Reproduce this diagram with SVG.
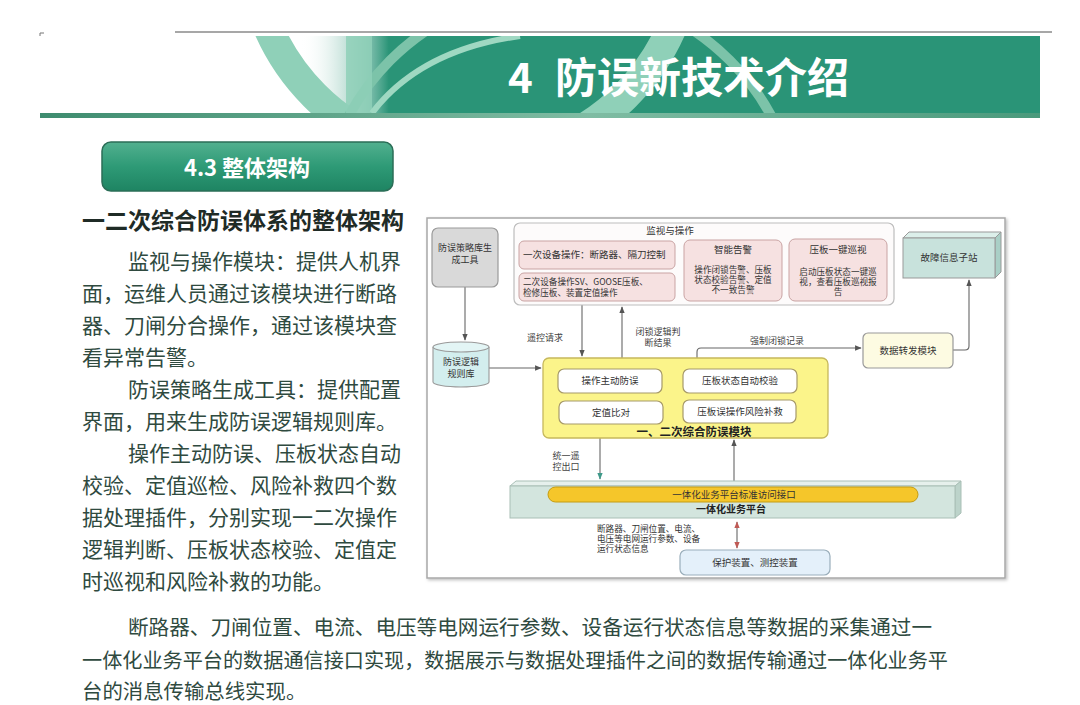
<svg xmlns="http://www.w3.org/2000/svg" width="1080" height="705" viewBox="0 0 1080 705">
<defs>
<style>
.cjk{font-family:"Noto Sans CJK SC","Noto Sans",sans-serif}
.body{font-family:"Noto Sans CJK SC","Noto Sans",sans-serif;font-size:21px;fill:#2f4a3f}
.para{font-family:"Noto Sans CJK SC","Noto Sans",sans-serif;font-size:20.4px;fill:#2f4a3f}
.s{font-family:"Noto Sans CJK SC","Noto Sans",sans-serif;font-size:9.5px;fill:#333}
.s2{font-family:"Noto Sans CJK SC","Noto Sans",sans-serif;font-size:9px;fill:#333}
.xs{font-family:"Noto Sans CJK SC","Noto Sans",sans-serif;font-size:8.6px;fill:#333}
.sm{font-family:"Noto Sans CJK SC","Noto Sans",sans-serif;font-size:9px;fill:#444}
.mid{text-anchor:middle}
.pink{fill:#f6e1e1;stroke:#c9a3a3;stroke-width:1}
.inner{fill:#ffffff;stroke:#a6996a;stroke-width:1.2}
.con{fill:none;stroke:#666;stroke-width:1.1}
</style>
<marker id="ah" viewBox="0 0 10 10" refX="9" refY="5" markerWidth="6" markerHeight="6" orient="auto-start-reverse">
<path d="M0,1 L10,5 L0,9 z" fill="#555"/>
</marker>
<marker id="aht" viewBox="0 0 10 10" refX="9" refY="5" markerWidth="6" markerHeight="6" orient="auto-start-reverse">
<path d="M0,1 L10,5 L0,9 z" fill="#3f9a8a"/>
</marker>
<marker id="ahr" viewBox="0 0 10 10" refX="9" refY="5" markerWidth="6" markerHeight="6" orient="auto-start-reverse">
<path d="M0,1 L10,5 L0,9 z" fill="#c05a55"/>
</marker>
<linearGradient id="btn" x1="0" y1="0" x2="0" y2="1">
<stop offset="0" stop-color="#52b08f"/>
<stop offset="0.5" stop-color="#2e9a76"/>
<stop offset="1" stop-color="#1e8462"/>
</linearGradient>
<linearGradient id="bar" x1="0" y1="0" x2="1" y2="0">
<stop offset="0" stop-color="#3e8c6f"/>
<stop offset="0.55" stop-color="#7fbca3"/>
<stop offset="1" stop-color="#4a9a7c"/>
</linearGradient>
<linearGradient id="ban" x1="0" y1="0" x2="1" y2="0">
<stop offset="0" stop-color="#ffffff" stop-opacity="0"/>
<stop offset="0.12" stop-color="#2a9477"/>
<stop offset="1" stop-color="#2a9477"/>
</linearGradient>
<clipPath id="bclip"><rect x="230" y="36" width="810" height="77"/></clipPath>
<filter id="sh" x="-5%" y="-5%" width="110%" height="110%"><feDropShadow dx="1.5" dy="1.5" stdDeviation="1.5" flood-color="#000" flood-opacity="0.25"/></filter>
</defs>
<rect width="1080" height="705" fill="#ffffff"/>

<g id="header">
<line x1="175" y1="32" x2="1052" y2="32" stroke="#8a8a8a" stroke-width="1.5"/>
<path d="M40,36 V33 H44" fill="none" stroke="#777" stroke-width="1"/>
<rect x="300" y="36" width="740" height="77" fill="url(#ban)"/>
<g clip-path="url(#bclip)">
<circle cx="470" cy="-60" r="220" fill="none" stroke="#8fd0b8" stroke-width="30"/>
<circle cx="560" cy="230" r="240" fill="none" stroke="#7cc3a9" stroke-width="10"/>
<rect x="346" y="36" width="26" height="77" fill="#8fd0b8" opacity="0.85"/>
<path d="M372,113 Q420,50 520,36" fill="none" stroke="#9fd8c2" stroke-width="6"/>
</g>
<rect x="40" y="113" width="1000" height="5" fill="url(#bar)"/>
<text x="508" y="93" class="cjk" font-size="42" font-weight="bold" fill="#ffffff">4</text>
<text x="555" y="93" class="cjk" font-size="42" font-weight="bold" fill="#ffffff">防误新技术介绍</text>
</g>

<g id="section">
<rect x="102" y="142" width="291" height="49" rx="9" fill="url(#btn)" stroke="#2b6e57" stroke-width="1.5"/>
<text x="247" y="176" class="cjk mid" font-size="22" fill="#ffffff" font-weight="bold">4.3 整体架构</text>
<text x="82" y="229" class="cjk" font-size="23" font-weight="bold" fill="#1f2b26">一二次综合防误体系的整体架构</text>
</g>

<g id="bodytext">
<text x="128" y="269" class="body">监视与操作模块：提供人机界</text>
<text x="82" y="301" class="body">面，运维人员通过该模块进行断路</text>
<text x="82" y="333" class="body">器、刀闸分合操作，通过该模块查</text>
<text x="82" y="365" class="body">看异常告警。</text>
<text x="128" y="397" class="body">防误策略生成工具：提供配置</text>
<text x="82" y="429" class="body">界面，用来生成防误逻辑规则库。</text>
<text x="128" y="461" class="body">操作主动防误、压板状态自动</text>
<text x="82" y="493" class="body">校验、定值巡检、风险补救四个数</text>
<text x="82" y="525" class="body">据处理插件，分别实现一二次操作</text>
<text x="82" y="557" class="body">逻辑判断、压板状态校验、定值定</text>
<text x="82" y="589" class="body">时巡视和风险补救的功能。</text>
<text x="128" y="635" class="para" textLength="804" lengthAdjust="spacingAndGlyphs">断路器、刀闸位置、电流、电压等电网运行参数、设备运行状态信息等数据的采集通过一</text>
<text x="82" y="668" class="para" textLength="866" lengthAdjust="spacingAndGlyphs">一体化业务平台的数据通信接口实现，数据展示与数据处理插件之间的数据传输通过一体化业务平</text>
<text x="82" y="699" class="para">台的消息传输总线实现。</text>
</g>

<g id="frame">
<rect x="427" y="218" width="578" height="360" fill="#ffffff" stroke="#a8a8a8" stroke-width="1.5" filter="url(#sh)"/>
</g>

<g id="connectors">
<path class="con" d="M465,287 V340" marker-end="url(#ah)"/>
<path class="con" d="M489,368 H541" marker-end="url(#ah)"/>
<path class="con" d="M582,305 V356" marker-end="url(#ah)"/>
<path class="con" d="M622,358 V307" stroke="#a99" marker-end="url(#ah)"/>
<path class="con" d="M697,358 V352 Q697,348 701,348 H861" marker-end="url(#ah)"/>
<path class="con" d="M953,350 H965 Q969,350 969,346 V280" marker-end="url(#ah)"/>
<path class="con" d="M600,438 V479" stroke="#9ab" marker-end="url(#aht)"/>
<path class="con" d="M734,481 V440" marker-end="url(#ah)"/>
<path class="con" d="M737,522 V548" stroke="#c05a55" marker-start="url(#ahr)" marker-end="url(#ahr)"/>
<text x="545" y="341" class="sm mid">遥控请求</text>
<text x="658" y="335" class="sm mid">闭锁逻辑判</text>
<text x="658" y="346" class="sm mid">断结果</text>
<text x="777" y="344" class="sm mid">强制闭锁记录</text>
<text x="566" y="459" class="sm mid">统一遥</text>
<text x="566" y="470" class="sm mid">控出口</text>
<text x="597" y="532" class="xs">断路器、刀闸位置、电流、</text>
<text x="597" y="542" class="xs">电压等电网运行参数、设备</text>
<text x="597" y="552" class="xs">运行状态信息</text>
</g>

<g id="tool">
<rect x="432" y="228" width="66" height="59" rx="6" fill="#d9d9d9" stroke="#9a9a9a" stroke-width="1.2"/>
<text x="465" y="251" class="s2 mid">防误策略库生</text>
<text x="465" y="263" class="s2 mid">成工具</text>
</g>

<g id="monitor">
<rect x="514" y="223" width="380" height="82" rx="6" fill="#fdfbfb" stroke="#bdbdbd" stroke-width="1.2"/>
<text x="670" y="234" class="s mid">监视与操作</text>
</g>
<g id="op1">
<rect x="519" y="241" width="156" height="28" rx="5" class="pink"/>
<text x="523" y="258" class="s">一次设备操作：断路器、隔刀控制</text>
</g>
<g id="op2">
<rect x="519" y="273" width="156" height="28" rx="5" class="pink"/>
<text x="523" y="285" class="xs">二次设备操作SV、GOOSE压板、</text>
<text x="523" y="296" class="xs">检修压板、装置定值操作</text>
</g>
<g id="alarm">
<rect x="684" y="240" width="98" height="61" rx="6" class="pink"/>
<text x="733" y="253" class="s mid">智能告警</text>
<text x="733" y="273" class="xs mid">操作闭锁告警、压板</text>
<text x="733" y="283" class="xs mid">状态校验告警、定值</text>
<text x="733" y="293" class="xs mid">不一致告警</text>
</g>
<g id="patrol">
<rect x="789" y="239" width="98" height="62" rx="6" class="pink"/>
<text x="838" y="253" class="s mid">压板一键巡视</text>
<text x="838" y="275" class="xs mid">启动压板状态一键巡</text>
<text x="838" y="285" class="xs mid">视，查看压板巡视报</text>
<text x="838" y="295" class="xs mid">告</text>
</g>

<g id="substation">
<polygon points="903,238 909,232 1001,232 995,238" fill="#dcefea" stroke="#999" stroke-width="1"/>
<polygon points="995,238 1001,232 1001,272 995,278" fill="#a9cfc6" stroke="#999" stroke-width="1"/>
<rect x="903" y="238" width="92" height="40" fill="#c8e2dc" stroke="#999" stroke-width="1"/>
<text x="949" y="261" class="s mid">故障信息子站</text>
</g>

<g id="forward">
<rect x="863" y="333" width="90" height="35" rx="5" fill="#fdfbe2" stroke="#999" stroke-width="1.2"/>
<text x="908" y="354" class="s mid">数据转发模块</text>
</g>

<g id="rulebase">
<path d="M433,347 V382 A28,5 0 0 0 489,382 V347" fill="#d3eeee" stroke="#999" stroke-width="1.1"/>
<ellipse cx="461" cy="347" rx="28" ry="5" fill="#e3f5f5" stroke="#999" stroke-width="1.1"/>
<text x="461" y="365" class="s2 mid">防误逻辑</text>
<text x="461" y="377" class="s2 mid">规则库</text>
</g>

<g id="module">
<rect x="543" y="358" width="285" height="80" rx="6" fill="#fbf48a" stroke="#c6b85c" stroke-width="1.3"/>
<text x="694" y="436" class="cjk mid" font-size="11.5" font-weight="bold" fill="#222">一、二次综合防误模块</text>
</g>
<g id="p1">
<rect x="558" y="369" width="104" height="24" rx="6" class="inner"/>
<text x="610" y="384" class="s mid">操作主动防误</text>
</g>
<g id="p2">
<rect x="559" y="401" width="104" height="23" rx="6" class="inner"/>
<text x="611" y="416" class="s mid">定值比对</text>
</g>
<g id="p3">
<rect x="683" y="369" width="114" height="24" rx="6" class="inner"/>
<text x="740" y="384" class="s mid">压板状态自动校验</text>
</g>
<g id="p4">
<rect x="683" y="400" width="113" height="23" rx="6" class="inner"/>
<text x="740" y="415" class="s mid">压板误操作风险补救</text>
</g>

<g id="platform">
<polygon points="510,486 516,481 961,481 955,486" fill="#e6f0ec" stroke="#a9bfb6" stroke-width="1"/>
<polygon points="955,486 961,481 961,513 955,518" fill="#bcd3ca" stroke="#a9bfb6" stroke-width="1"/>
<rect x="510" y="486" width="445" height="32" fill="#d3e5de" stroke="#a9bfb6" stroke-width="1"/>
<rect x="548" y="487" width="370" height="15" rx="7.5" fill="#f5c62a" stroke="#c49c12" stroke-width="1"/>
<text x="734" y="498" class="s mid">一体化业务平台标准访问接口</text>
<text x="731" y="513" class="cjk mid" font-size="10" font-weight="bold" fill="#222">一体化业务平台</text>
</g>

<g id="devices">
<rect x="680" y="550" width="150" height="25" rx="6" fill="#e4f0fa" stroke="#9aaebb" stroke-width="1.2"/>
<text x="755" y="566" class="s mid">保护装置、测控装置</text>
</g>
</svg>
